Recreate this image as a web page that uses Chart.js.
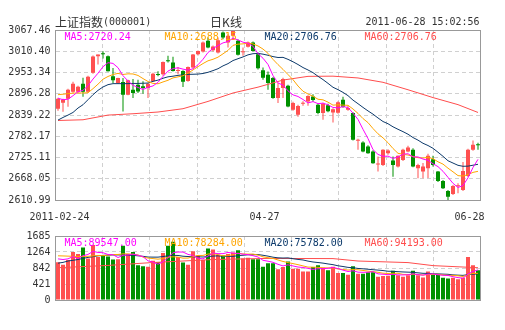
<!DOCTYPE html>
<html>
<head>
<meta charset="utf-8">
<script src="https://cdn.jsdelivr.net/npm/chart.js@4.4.0/dist/chart.umd.min.js"></script>
<style>
  body { margin: 0; background: #fff; }
  #wrap { position: relative; width: 505px; height: 330px; }
  #wrap canvas { position: absolute; left: 0; }
  #kline { top: 0; }
  #vol { top: 225px; }
</style>
</head>
<body>
<div id="wrap">
  <canvas id="kline" width="505" height="225"></canvas>
  <canvas id="vol" width="505" height="105"></canvas>
</div>
<script>
// daily candles, oldest first
var opens = [2856.1, 2872.2, 2883.0, 2901.8, 2901.8, 2923.4, 2901.8, 2953.0, 2996.9, 3004.2,
  2996.9, 2943.1, 2925.3, 2928.0, 2893.8, 2907.2, 2920.7, 2916.1, 2911.8, 2929.6,
  2948.4, 2948.4, 2985.3, 2979.9, 2957.6, 2957.6, 2930.7, 2966.5, 3002.3, 3009.6,
  3038.4, 3013.1, 3006.9, 3060.7, 3033.8, 3051.8, 3038.4, 3007.7, 3022.2, 3033.8,
  3002.3, 2959.2, 2947.6, 2938.7, 2884.9, 2911.8, 2918.0, 2853.4, 2839.9, 2869.5,
  2875.7, 2889.2, 2866.8, 2844.5, 2865.5, 2846.1, 2845.3, 2880.3, 2853.4, 2844.5,
  2769.9, 2765.3, 2754.5, 2741.1, 2706.6, 2705.3, 2736.8, 2716.8, 2700.7, 2718.7,
  2741.1, 2745.7, 2696.4, 2687.2, 2696.4, 2720.6, 2687.2, 2662.2, 2635.2, 2627.2,
  2647.9, 2637.9, 2675.6, 2745.7, 2759.1];
var closes = [2883.0, 2880.3, 2907.2, 2923.4, 2915.3, 2901.8, 2942.2, 2996.1, 3001.5, 3002.3,
  2956.5, 2932.3, 2938.7, 2893.8, 2932.3, 2898.3, 2902.6, 2911.8, 2923.4, 2950.3,
  2946.8, 2981.8, 2983.4, 2957.6, 2960.3, 2928.8, 2968.4, 3001.5, 3011.4, 3033.8,
  3020.3, 3023.0, 3040.0, 3047.3, 3051.8, 3064.8, 3000.7, 3008.8, 3033.8, 3011.4,
  2964.6, 2939.5, 2925.3, 2884.9, 2911.8, 2936.0, 2862.3, 2871.4, 2863.3, 2871.4,
  2890.3, 2879.5, 2844.5, 2869.5, 2849.3, 2854.7, 2873.6, 2861.4, 2858.0, 2772.6,
  2771.2, 2741.1, 2736.8, 2709.8, 2708.0, 2745.7, 2743.8, 2705.3, 2729.5, 2745.7,
  2751.9, 2700.7, 2705.3, 2700.7, 2729.5, 2705.3, 2662.2, 2642.5, 2619.9, 2648.7,
  2649.5, 2689.1, 2745.7, 2759.1, 2757.8];
var highs = [2885.7, 2883.0, 2909.9, 2928.8, 2918.0, 2939.5, 2944.9, 2998.8, 3001.5, 3010.4,
  2998.8, 2965.7, 2939.5, 2938.7, 2934.2, 2936.0, 2934.2, 2929.6, 2926.1, 2953.0,
  2956.5, 2982.6, 2998.0, 2995.3, 2968.4, 2959.2, 2969.2, 3002.8, 3012.2, 3036.5,
  3047.3, 3025.7, 3047.3, 3063.4, 3056.1, 3067.46, 3041.9, 3020.3, 3036.5, 3036.5,
  3006.9, 2966.5, 2955.7, 2941.4, 2925.3, 2939.5, 2920.7, 2874.9, 2866.8, 2876.2,
  2892.4, 2895.1, 2870.9, 2872.2, 2869.5, 2857.4, 2876.2, 2888.4, 2864.1, 2846.6,
  2775.3, 2768.5, 2757.8, 2744.4, 2727.6, 2747.0, 2747.0, 2727.6, 2730.8, 2748.3,
  2756.4, 2750.2, 2708.0, 2710.6, 2734.9, 2729.5, 2689.1, 2664.9, 2637.9, 2651.4,
  2656.0, 2713.3, 2748.3, 2770.7, 2764.5];
var lows = [2850.7, 2848.0, 2861.4, 2899.1, 2899.1, 2888.4, 2899.1, 2950.3, 2974.6, 2990.7,
  2955.7, 2925.3, 2923.4, 2848.8, 2892.4, 2884.9, 2898.3, 2896.5, 2884.9, 2928.8,
  2943.1, 2944.9, 2979.9, 2955.7, 2948.4, 2914.5, 2928.8, 2963.8, 2998.8, 3006.9,
  3018.5, 3009.6, 3004.2, 3042.7, 3020.3, 3042.7, 2998.8, 2998.0, 3020.3, 3009.6,
  2961.1, 2934.2, 2907.2, 2883.0, 2871.4, 2884.9, 2860.1, 2850.7, 2834.5, 2864.1,
  2864.1, 2874.9, 2841.3, 2826.4, 2846.6, 2819.2, 2842.6, 2858.8, 2850.7, 2770.8,
  2745.7, 2738.9, 2734.9, 2708.0, 2687.2, 2702.6, 2732.2, 2673.7, 2698.5, 2716.0,
  2738.9, 2699.1, 2669.4, 2669.4, 2670.2, 2700.7, 2659.5, 2640.6, 2610.99, 2624.5,
  2629.0, 2635.2, 2672.9, 2743.0, 2745.7];
var volumes = [994, 929, 1050, 1266, 1211, 1379, 1090, 1451, 1131, 1170,
  1146, 1066, 1074, 1427, 1211, 1266, 914, 891, 874, 1035,
  994, 1235, 1427, 1531, 1131, 987, 929, 1283, 1170, 1050,
  1355, 1331, 1194, 1170, 1211, 1252, 1307, 1090, 1114, 1074,
  1074, 874, 970, 970, 809, 866, 1011, 826, 826, 753,
  753, 866, 914, 850, 785, 874, 712, 712, 664, 891,
  688, 688, 729, 729, 609, 633, 640, 770, 650, 609,
  650, 770, 650, 592, 753, 664, 664, 585, 568, 585,
  544, 585, 1131, 914, 785];

// axis ticks and labels
var priceTicks = [2610.99, 2668.05, 2725.11, 2782.17, 2839.22, 2896.28, 2953.34, 3010.40, 3067.46];
var volumeTicks = [0, 421, 842, 1264, 1685];
var dateTicks = ['2011-02-24', '04-27', '06-28'];
var dateTickIdx = [0, 41, 84];

// averages for the first sessions, whose window starts before the first candle
var ma5Head = [2884.3, 2880.3, 2881.6, 2891.1];
var ma10Head = [2893.8, 2895.0, 2896.5, 2898.0, 2898.3, 2898.3, 2899.0, 2910.0, 2922.0];
var ma20Head = [2825.6, 2832.6, 2839.0, 2846.1, 2857.9, 2866.8, 2880.3, 2893.8, 2905.4, 2914.5,
  2920.7, 2923.4, 2923.4, 2923.4, 2923.4, 2924.0, 2924.0, 2924.5, 2925.0];
var ma60Idx = [0, 5, 10, 15, 20, 25, 30, 35, 40, 45, 50, 55, 60, 65, 70, 75, 80, 84];
var ma60Val = [2824.5, 2826.4, 2839.0, 2842.6, 2847.2, 2856.1, 2875.7, 2898.3, 2914.0, 2933.0,
  2943.0, 2943.5, 2938.7, 2927.0, 2907.0, 2886.0, 2867.0, 2846.0];

var volMa5Head = [1083, 1066, 1083, 1146];
var volMa10Head = [1163, 1160, 1155, 1150, 1146, 1146, 1150, 1160, 1170];
var volMa20Head = [970, 990, 1026, 1045, 1066, 1095, 1122, 1140, 1163, 1175,
  1180, 1187, 1187, 1185, 1180, 1175, 1163, 1150, 1131];
var volMa60Idx = [0, 10, 19, 31, 42, 55, 60, 70, 75, 84];
var volMa60Val = [850, 910, 987, 1066, 1095, 1090, 1026, 985, 905, 850];

var priceLegend = ['MA5:2720.24', 'MA10:2688.15', 'MA20:2706.76', 'MA60:2706.76'];
var volumeLegend = ['MA5:89547.00', 'MA10:78284.00', 'MA20:75782.00', 'MA60:94193.00'];

var UP = '#ff5050', DOWN = '#009100';
var MA_COLORS = ['#ff00ff', '#ffa500', '#0d3a6b', '#ff4d4d'];
var MONO = '"DejaVu Sans Mono", monospace';
var CJK = '"Noto Sans CJK SC", sans-serif';

var days = opens.map(function (_, i) { return i; });
var candleColors = days.map(function (i) { return closes[i] >= opens[i] ? UP : DOWN; });

function movingAvg(src, n, head) {
  return src.map(function (v, i) {
    if (i < n - 1) return head[i];
    var s = 0;
    for (var k = i - n + 1; k <= i; k++) s += src[k];
    return +(s / n).toFixed(2);
  });
}

function sparse(idx, vals) {
  var out = days.map(function () { return null; });
  idx.forEach(function (d, k) { out[d] = vals[k]; });
  return out;
}

function maLine(name, data, color) {
  return {
    type: 'line', label: name, data: data, borderColor: color, borderWidth: 1,
    pointRadius: 0, tension: 0, spanGaps: true, order: 0
  };
}

var grid = { color: '#d0d0d0', drawTicks: false };
var dashed = { display: false, dash: [4, 3] };

function gridAxis() {
  // eight vertical divisions, independent of the candles
  return {
    type: 'linear', position: 'bottom', min: 0, max: 8,
    ticks: { display: false, stepSize: 1 }, grid: grid, border: dashed,
    afterFit: function (s) { s.height = 0; }
  };
}

function valueAxis(ticks, digits) {
  return {
    position: 'left', min: ticks[0], max: ticks[ticks.length - 1],
    afterBuildTicks: function (s) { s.ticks = ticks.map(function (v) { return { value: v }; }); },
    afterFit: function (s) { s.width = 55.5; },
    ticks: {
      font: { family: MONO, size: 10 }, color: '#333', padding: 5,
      callback: function (v) { return v.toFixed(digits); }
    },
    grid: grid, border: dashed
  };
}

function framePlugin(legend, drawExtra) {
  return {
    id: 'frame',
    afterDraw: function (chart) {
      var a = chart.chartArea, ctx = chart.ctx;
      var top = Math.round(a.top), bottom = Math.round(a.bottom);
      ctx.save();
      ctx.strokeStyle = '#999';
      ctx.lineWidth = 1;
      ctx.strokeRect(a.left, top + 0.5, a.right - a.left, bottom - top);

      ctx.font = '10px ' + MONO;
      ctx.textBaseline = 'middle';
      ctx.textAlign = 'left';
      legend.forEach(function (t, k) {
        ctx.fillStyle = MA_COLORS[k];
        ctx.fillText(t, a.left + 9 + k * 100, a.top + 7);
      });
      if (drawExtra) drawExtra(chart, ctx, a);
      ctx.restore();
    }
  };
}

function drawHeader(chart, ctx, a) {
  ctx.fillStyle = '#333';
  ctx.textBaseline = 'middle';
  ctx.textAlign = 'left';
  ctx.font = '12px ' + CJK;
  ctx.fillText('上证指数', 55, 22);
  ctx.font = '10px ' + MONO;
  ctx.fillText('(000001)', 103, 22);

  ctx.textAlign = 'center';
  ctx.font = '12px ' + CJK;
  ctx.fillText('日K线', 226, 22);

  // timestamp, squeezed to the 6px digit pitch
  var stamp = '2011-06-28 15:02:56';
  ctx.font = '11px ' + MONO;
  var w = ctx.measureText(stamp).width, sx = (stamp.length * 6) / w;
  ctx.save();
  ctx.translate(a.right - 1, 22);
  ctx.scale(sx, 1);
  ctx.textAlign = 'right';
  ctx.fillText(stamp, 0, 0);
  ctx.restore();

  // date labels under the candles
  ctx.font = '10px ' + MONO;
  ctx.textAlign = 'center';
  var xs = chart.scales.x;
  dateTicks.forEach(function (t, k) {
    var half = ctx.measureText(t).width / 2;
    var x = Math.min(xs.getPixelForValue(dateTickIdx[k]) + 1.5, a.right + 4 - half);
    ctx.fillText(t, x, a.bottom + 17);
  });
}

var bodies = days.map(function (i) { return [opens[i], closes[i]]; });
var wicks = days.map(function (i) { return [lows[i], highs[i]]; });

new Chart(document.getElementById('kline'), {
  type: 'bar',
  data: {
    labels: days,
    datasets: [
      maLine('MA5', movingAvg(closes, 5, ma5Head), MA_COLORS[0]),
      maLine('MA10', movingAvg(closes, 10, ma10Head), MA_COLORS[1]),
      maLine('MA20', movingAvg(closes, 20, ma20Head), MA_COLORS[2]),
      maLine('MA60', sparse(ma60Idx, ma60Val), MA_COLORS[3]),
      {
        label: 'body', data: bodies, backgroundColor: candleColors,
        barThickness: 4, grouped: false, minBarLength: 1, inflateAmount: 0, order: 5
      },
      {
        label: 'wick', data: wicks, backgroundColor: candleColors,
        barThickness: 1, grouped: false, inflateAmount: 0, order: 6
      }
    ]
  },
  options: {
    responsive: false,
    animation: false,
    layout: { padding: { top: 30, right: 24.5, bottom: 25, left: 0 } },
    plugins: { legend: { display: false }, tooltip: { enabled: false } },
    scales: {
      x: { display: false, offset: true },
      gx: gridAxis(),
      y: valueAxis(priceTicks, 2)
    }
  },
  plugins: [framePlugin(priceLegend, drawHeader)]
});

new Chart(document.getElementById('vol'), {
  type: 'bar',
  data: {
    labels: days,
    datasets: [
      maLine('MA5', movingAvg(volumes, 5, volMa5Head), MA_COLORS[0]),
      maLine('MA10', movingAvg(volumes, 10, volMa10Head), MA_COLORS[1]),
      maLine('MA20', movingAvg(volumes, 20, volMa20Head), MA_COLORS[2]),
      maLine('MA60', sparse(volMa60Idx, volMa60Val), MA_COLORS[3]),
      {
        label: 'volume', data: volumes, backgroundColor: candleColors,
        barThickness: 4, inflateAmount: 0, order: 5
      }
    ]
  },
  options: {
    responsive: false,
    animation: false,
    layout: { padding: { top: 5, right: 24.5, bottom: 30, left: 0 } },
    plugins: { legend: { display: false }, tooltip: { enabled: false } },
    scales: {
      x: { display: false, offset: true },
      gx: gridAxis(),
      y: valueAxis(volumeTicks, 0)
    }
  },
  plugins: [framePlugin(volumeLegend)]
});
</script>
</body>
</html>
